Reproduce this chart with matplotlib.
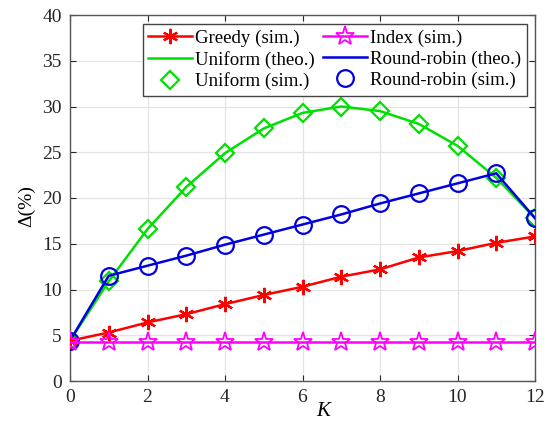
import matplotlib
matplotlib.use("Agg")
import matplotlib.pyplot as plt
import numpy as np

plt.rcParams['font.family'] = ['Liberation Serif', 'DejaVu Serif']

K = list(range(13))
greedy_sim = [4.4, 5.3, 6.4, 7.3, 8.4, 9.4, 10.3, 11.4, 12.2, 13.5, 14.2, 15.1, 15.8]
index_sim = [4.3] * 13
uniform_theo = [4.4, 10.9, 16.6, 21.2, 24.9, 27.6, 29.3, 30.0, 29.5, 28.1, 25.7, 22.2, 17.8]
uniform_sim = [4.4, 10.9, 16.6, 21.2, 24.9, 27.6, 29.3, 30.0, 29.5, 28.1, 25.7, 22.2, 17.8]
rr_theo = [4.4, 11.5, 12.6, 13.7, 14.9, 16.0, 17.1, 18.2, 19.4, 20.5, 21.6, 22.7, 17.8]
rr_sim = [4.4, 11.5, 12.6, 13.7, 14.9, 16.0, 17.1, 18.2, 19.4, 20.5, 21.6, 22.7, 17.8]

xticks = [0, 2, 4, 6, 8, 10, 12]
yticks = [0, 5, 10, 15, 20, 25, 30, 35, 40]

fig = plt.figure(figsize=(5.5, 4.21), dpi=100)
ax = fig.add_axes([70/550, 1-381/421, 465/550, 366/421])

lw = 1.8
red = '#ff0000'; mag = '#ff00ff'; grn = '#00e000'; blu = '#0000e0'

h_ut, = ax.plot(K, uniform_theo, color=grn, lw=lw, zorder=3)
h_us, = ax.plot(K, uniform_sim, ls='none', marker='D', ms=9.5, mfc='none', mec=grn, mew=1.6, zorder=3)
h_rt, = ax.plot(K, rr_theo, color=blu, lw=lw, zorder=4)
h_rs, = ax.plot(K, rr_sim, ls='none', marker='o', ms=12, mfc='none', mec=blu, mew=1.6, zorder=4)
h_g, = ax.plot(K, greedy_sim, color=red, lw=lw, marker=(6, 2, 0), ms=11, mec=red, mew=1.6, zorder=5)
h_i, = ax.plot(K, index_sim, color=mag, lw=lw, marker='*', ms=14, mfc='none', mec=mag, mew=1.3, zorder=5)

ax.set_xlim(0, 12)
ax.set_ylim(0, 40)
ax.set_xticks(xticks)
ax.set_yticks(yticks)
ax.tick_params(direction='in', labelsize=14, top=True, right=True, colors='#262626', length=4, pad=6)
for s in ax.spines.values():
    s.set_color('#555555')
    s.set_linewidth(1.0)
ax.grid(True, color='#e3e3e3', lw=0.9)
ax.set_axisbelow(True)

ax.set_xlabel('K', fontsize=15, fontstyle='italic')
ax.xaxis.set_label_coords(0.544, -0.058)
ax.set_ylabel('Δ(%)', fontsize=14)
ax.yaxis.set_label_coords(-0.075, 0.478)

leg = ax.legend([h_g, h_ut, h_us, h_i, h_rt, h_rs],
                ['Greedy (sim.)', 'Uniform (theo.)', 'Uniform (sim.)',
                 'Index (sim.)', 'Round-robin (theo.)', 'Round-robin (sim.)'],
                ncol=2, loc='upper right', bbox_to_anchor=(1 - 8/465, 1 - 9/366), fontsize=13.6,
                fancybox=False, framealpha=1, edgecolor='#444444',
                handlelength=2.33, handletextpad=0.16, columnspacing=0.42,
                labelspacing=0.2, borderpad=0.3, borderaxespad=0.0)
leg.get_frame().set_linewidth(1.0)

fig.savefig('out.png', dpi=100)
